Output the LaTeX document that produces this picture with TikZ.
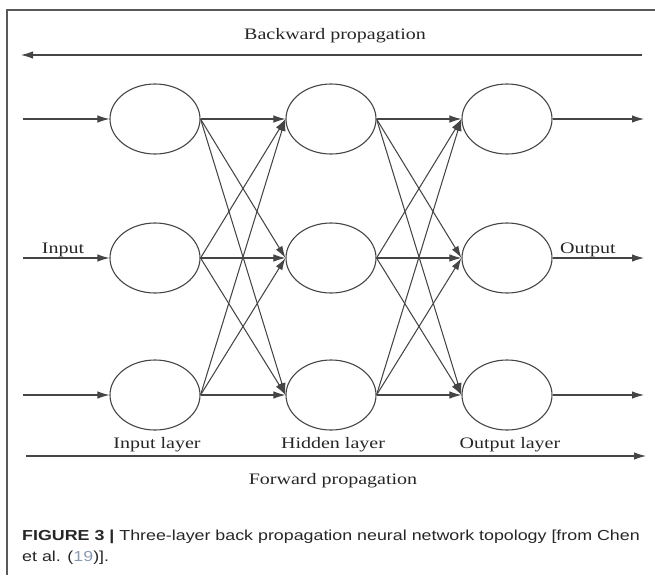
\documentclass[tikz,border=0pt]{standalone}
\usepackage{fontspec}
\usepackage{tikz}
\usetikzlibrary{shapes.geometric,arrows.meta}
\newfontfamily\diagfont[FakeStretch=1.25]{Liberation Serif}
\newfontfamily\capfont[FakeStretch=1.23]{Liberation Sans}
\definecolor{linegray}{HTML}{454545}
\definecolor{linkblue}{HTML}{8A9BB0}

\begin{document}
\begin{tikzpicture}[x=1pt,y=-1pt,
  neuron/.style={ellipse, draw=linegray, line width=1.1pt, minimum width=90pt, minimum height=70pt, inner sep=0pt},
  link/.style={line width=1.05pt, linegray, -{Latex[length=12pt,width=7.5pt]}},
  lbl/.style={font=\diagfont\fontsize{16}{18}\selectfont, text=black!85, inner sep=0pt},
  capline/.style={anchor=west, inner sep=0pt, font=\capfont\fontsize{14.5}{16}\selectfont, text=black!85}]
\useasboundingbox (0,0) rectangle (655,579);
% frame
\draw[line width=1.2pt, black!65] (655,10) -- (7,10) -- (7,575);

% layers
\node[neuron] (i1) at (155,119) {};
\node[neuron] (i2) at (155,258) {};
\node[neuron] (i3) at (155,395) {};
\node[neuron] (h1) at (331,119) {};
\node[neuron] (h2) at (331,258) {};
\node[neuron] (h3) at (331,395) {};
\node[neuron] (o1) at (507,119) {};
\node[neuron] (o2) at (507,258) {};
\node[neuron] (o3) at (507,395) {};

% free ends
\coordinate (in1) at (23,119);
\coordinate (in2) at (23,258);
\coordinate (in3) at (23,395);
\coordinate (out1) at (644,119);
\coordinate (out2) at (644,258);
\coordinate (out3) at (644,395);
\coordinate (bs) at (642,55);
\coordinate (be) at (21,55);
\coordinate (fs) at (26,456);
\coordinate (fe) at (646,456);

\draw[link] (in1) -- (i1.west);
\draw[link] (in2) -- (i2.west);
\draw[link] (in3) -- (i3.west);

\draw[link] (i1.east) -- (h1.west);
\draw[link] (i1.east) -- (h2.west);
\draw[link] (i1.east) -- (h3.west);
\draw[link] (i2.east) -- (h1.west);
\draw[link] (i2.east) -- (h2.west);
\draw[link] (i2.east) -- (h3.west);
\draw[link] (i3.east) -- (h1.west);
\draw[link] (i3.east) -- (h2.west);
\draw[link] (i3.east) -- (h3.west);

\draw[link] (h1.east) -- (o1.west);
\draw[link] (h1.east) -- (o2.west);
\draw[link] (h1.east) -- (o3.west);
\draw[link] (h2.east) -- (o1.west);
\draw[link] (h2.east) -- (o2.west);
\draw[link] (h2.east) -- (o3.west);
\draw[link] (h3.east) -- (o1.west);
\draw[link] (h3.east) -- (o2.west);
\draw[link] (h3.east) -- (o3.west);

\draw[link] (o1.east) -- (out1);
\draw[link] (o2.east) -- (out2);
\draw[link] (o3.east) -- (out3);

\draw[link] (bs) -- (be);
\draw[link] (fs) -- (fe);

% labels
\node[lbl] (back) at (335,36) {Backward propagation};
\node[lbl] (inp) at (63,250) {Input};
\node[lbl] (outp) at (588,250) {Output};
\node[lbl] (il) at (157,445) {Input layer};
\node[lbl] (hl) at (333,445) {Hidden layer};
\node[lbl] (ol) at (510,445) {Output layer};
\node[lbl] (fwd) at (333,481) {Forward propagation};

% caption
\node[capline] (cap1) at (22,537)
  {\textbf{FIGURE 3 |} Three-layer back propagation neural network topology [from Chen};
\node[capline] (cap2) at (22,558) {et al. ({\color{linkblue}19})].};
\end{tikzpicture}
\end{document}
